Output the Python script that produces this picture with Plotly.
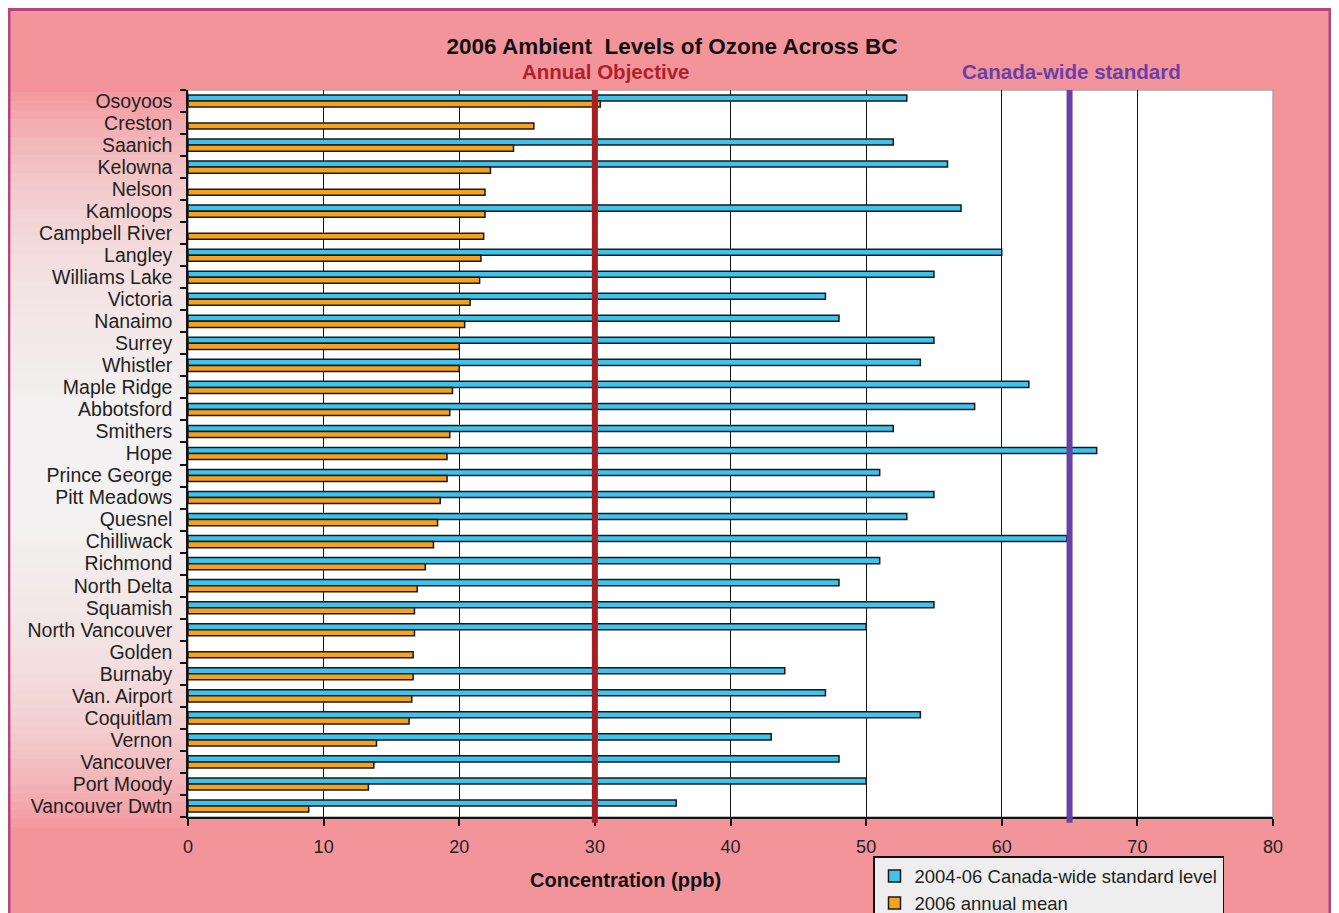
import plotly.graph_objects as go

stations = ["Osoyoos", "Creston", "Saanich", "Kelowna", "Nelson", "Kamloops",
            "Campbell River", "Langley", "Williams Lake", "Victoria", "Nanaimo",
            "Surrey", "Whistler", "Maple Ridge", "Abbotsford", "Smithers", "Hope",
            "Prince George", "Pitt Meadows", "Quesnel", "Chilliwack", "Richmond",
            "North Delta", "Squamish", "North Vancouver", "Golden", "Burnaby",
            "Van. Airport", "Coquitlam", "Vernon", "Vancouver", "Port Moody",
            "Vancouver Dwtn"]

cws_level = [53, None, 52, 56, None, 57,
             None, 60, 55, 47, 48,
             55, 54, 62, 58, 52, 67,
             51, 55, 53, 64.8, 51,
             48, 55, 50, None, 44,
             47, 54, 43, 48, 50,
             36]

annual_mean = [30.4, 25.5, 24.0, 22.3, 21.9, 21.9,
               21.8, 21.6, 21.5, 20.8, 20.4,
               20.0, 20.0, 19.5, 19.3, 19.3, 19.1,
               19.1, 18.6, 18.4, 18.1, 17.5,
               16.9, 16.7, 16.7, 16.6, 16.6,
               16.5, 16.3, 13.9, 13.7, 13.3,
               8.9]

annual_objective = 30
canada_wide_standard = 65
x_ticks = [0, 10, 20, 30, 40, 50, 60, 70, 80]

# page has an 8px body margin: figure drawn at (8, 8)
OFF = 8
W, H = 1339 - OFF, 913 - OFF
# plot-area edges in page pixels
L, R, T, B = 188, 1273, 90, 817
pw, ph = R - L, B - T


def px_x(px):
    return (px - L) / pw


def px_y(py):
    return (B - py) / ph


FONT = "Liberation Sans, Arial, sans-serif"

fig = go.Figure()
fig.add_trace(go.Bar(
    y=stations, x=cws_level, orientation="h",
    name="2004-06 Canada-wide standard level",
    marker=dict(color="#3dc3ec", line=dict(color="#1a1a1a", width=1.5)),
))
fig.add_trace(go.Bar(
    y=stations, x=annual_mean, orientation="h",
    name="2006 annual mean",
    marker=dict(color="#f5a21f", line=dict(color="#1a1a1a", width=1.5)),
))

shapes = []
# outer pink frame
shapes.append(dict(type="rect", xref="paper", yref="paper", layer="below",
                   x0=px_x(9), x1=px_x(1330), y0=px_y(930), y1=px_y(9.5),
                   fillcolor="#f3949a", line=dict(color="#b4457f", width=3)))
# soft light glow on the left margin (nested translucent rectangles)
n = 42
for i in range(n):
    half = 420 - i * 10
    shapes.append(dict(type="rect", xref="paper", yref="paper", layer="below",
                       x0=px_x(10.5), x1=px_x(L), y0=px_y(470 + half * 0.85),
                       y1=px_y(470 - half * 0.9),
                       fillcolor="white", opacity=0.065, line=dict(width=0)))
# plot area (white, gray border)
shapes.append(dict(type="rect", xref="paper", yref="paper", layer="below",
                   x0=0, x1=1, y0=0, y1=1, fillcolor="white",
                   line=dict(color="#a8a8a8", width=1.5)))
# reference lines
shapes.append(dict(type="line", xref="x", yref="paper",
                   x0=annual_objective, x1=annual_objective, y0=-0.008, y1=1,
                   line=dict(color="#a51f24", width=6)))
shapes.append(dict(type="line", xref="x", yref="paper",
                   x0=canada_wide_standard, x1=canada_wide_standard, y0=-0.008, y1=1,
                   line=dict(color="#6841a3", width=6)))

annotations = [
    dict(text="<b>Annual Objective</b>", xref="paper", yref="paper",
         x=px_x(605), y=px_y(71), showarrow=False, xanchor="center", yanchor="middle",
         font=dict(family=FONT, size=20.5, color="#b01f2a")),
    dict(text="<b>Canada-wide standard</b>", xref="paper", yref="paper",
         x=px_x(1071), y=px_y(71), showarrow=False, xanchor="center", yanchor="middle",
         font=dict(family=FONT, size=20.5, color="#6a40a8")),
    dict(text="<b>Concentration (ppb)</b>", xref="paper", yref="paper",
         x=px_x(625), y=px_y(880), showarrow=False, xanchor="center", yanchor="middle",
         font=dict(family=FONT, size=20, color="#111111")),
]

fig.update_layout(
    template="none",
    width=W, height=H,
    margin=dict(l=L - OFF, r=1339 - R, t=T - OFF, b=913 - B, pad=0, autoexpand=False),
    paper_bgcolor="white",
    plot_bgcolor="rgba(0,0,0,0)",
    barmode="group",
    bargap=0.45,
    bargroupgap=0,
    title=dict(text="<b>2006 Ambient  Levels of Ozone Across BC</b>",
               x=(672 - OFF) / W, xref="container", xanchor="center",
               y=1 - (46 - OFF) / H, yref="container", yanchor="middle",
               font=dict(family=FONT, size=22.5, color="#111111")),
    font=dict(family=FONT, color="#222222"),
    shapes=shapes,
    annotations=annotations,
    showlegend=True,
    legend=dict(x=px_x(873), y=px_y(856), xanchor="left", yanchor="top",
                bgcolor="#eeeeee", bordercolor="#111111", borderwidth=1.5,
                font=dict(family=FONT, size=18.5, color="#222222"),
                traceorder="normal", itemwidth=30,
                tracegroupgap=0),
    xaxis=dict(range=[0, 80], tickvals=x_ticks, ticktext=[str(v) for v in x_ticks],
               showgrid=True, gridcolor="#111111", gridwidth=1,
               zeroline=False, showline=True, linecolor="#111111", linewidth=1.5,
               ticks="outside", ticklen=7, tickcolor="#111111", tickwidth=1.5,
               ticklabelstandoff=6,
               tickfont=dict(family=FONT, size=18, color="#222222"),
               automargin=False, layer="below traces"),
    yaxis=dict(type="category", categoryorder="array", categoryarray=stations,
               tickmode="array", tickvals=stations, ticktext=stations,
               autorange="reversed", showgrid=False, zeroline=False,
               showline=True, linecolor="#111111", linewidth=1.5,
               ticks="outside", ticklen=6, tickcolor="#111111", tickwidth=1.5,
               tickson="boundaries", ticklabelstandoff=10,
               tickfont=dict(family=FONT, size=19.5, color="#222222"),
               automargin=False),
)

fig.write_html("out.html")
